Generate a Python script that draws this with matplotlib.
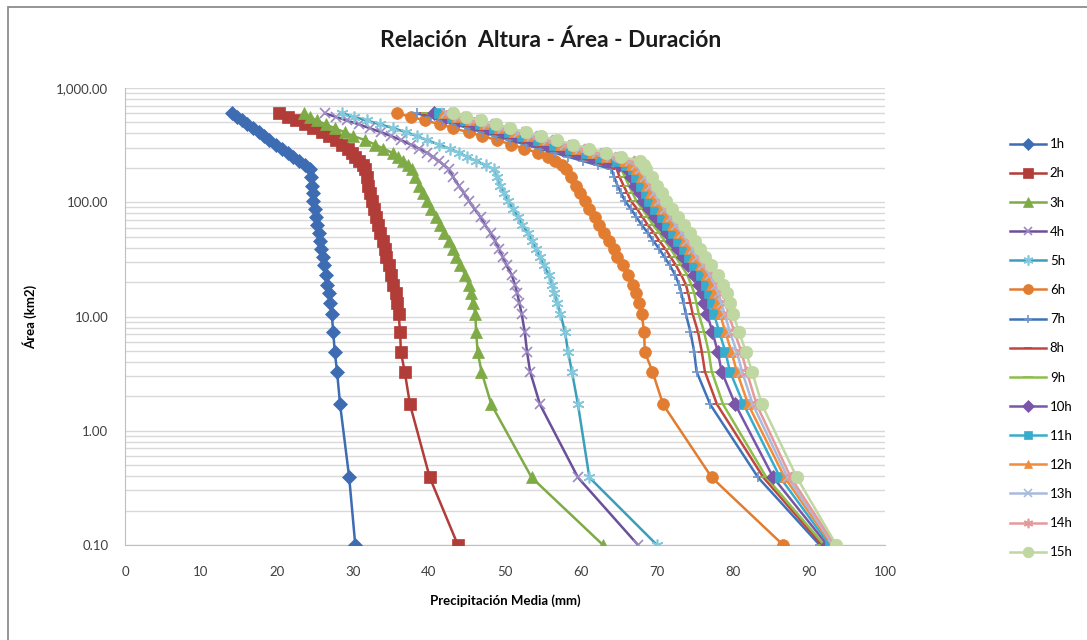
"""
Relacion Altura - Area - Duracion (curvas P-A-D)
"""
import matplotlib
matplotlib.use('Agg')
import matplotlib.pyplot as plt
from matplotlib.ticker import FuncFormatter, LogLocator, NullFormatter
from matplotlib.lines import Line2D
from matplotlib.patches import Rectangle

plt.rcParams['font.family'] = ['Lato', 'DejaVu Sans']

# ── datos: area (km2) comun a todas las duraciones ──────────────────────────
area = [0.1, 0.39, 1.7, 3.3, 4.9, 7.3, 10.5, 13, 16, 19, 23, 28, 33, 39, 46, 54,
        63, 74, 87, 102, 120, 140, 165, 195, 210, 230, 250, 270, 295, 320, 350,
        380, 410, 445, 480, 520, 560, 600]

# precipitacion media (mm) por duracion
p_1h = [30.3, 29.5, 28.3, 27.9, 27.6, 27.4, 27.2, 27.0, 26.8, 26.6, 26.4, 26.2, 26.0, 25.8, 25.6, 25.5,
        25.3, 25.1, 25.0, 24.8, 24.7, 24.6, 24.5, 24.4, 23.7, 22.9, 22.1, 21.4, 20.6, 19.9, 19.0,
        18.3, 17.6, 16.8, 16.1, 15.4, 14.8, 14.1]
p_2h = [43.8, 40.1, 37.5, 36.8, 36.3, 36.2, 36.0, 35.8, 35.6, 35.3, 35.0, 34.7, 34.4, 34.2, 33.9, 33.6,
        33.3, 33.0, 32.8, 32.5, 32.3, 32.0, 31.8, 31.6, 31.3, 30.8, 30.3, 29.9, 29.3, 28.6, 27.8,
        26.9, 25.9, 24.8, 23.7, 22.5, 21.4, 20.3]
p_3h = [62.9, 53.5, 48.2, 46.9, 46.4, 46.2, 46.1, 45.8, 45.5, 45.2, 44.8, 44.1, 43.6, 43.1, 42.6, 42.0,
        41.5, 40.9, 40.3, 39.7, 39.2, 38.7, 38.2, 37.8, 37.3, 36.6, 35.9, 35.2, 34.0, 32.9, 31.6,
        30.0, 28.9, 27.6, 26.4, 25.2, 24.3, 23.5]
p_4h = [67.5, 59.6, 54.6, 53.3, 52.9, 52.6, 52.2, 51.9, 51.6, 51.3, 50.9, 50.2, 49.7, 49.2, 48.7, 48.1,
        47.4, 46.8, 46.0, 45.3, 44.6, 43.9, 43.2, 42.6, 42.0, 41.3, 40.5, 39.8, 38.7, 37.6, 36.3,
        35.0, 33.7, 32.2, 30.8, 29.2, 27.7, 26.3]
p_5h = [70.0, 61.1, 59.6, 58.8, 58.3, 57.9, 57.3, 56.9, 56.5, 56.2, 55.8, 55.1, 54.6, 54.1, 53.6, 53.0,
        52.3, 51.7, 51.1, 50.4, 49.9, 49.4, 48.9, 48.5, 47.5, 46.2, 45.0, 44.0, 42.7, 41.3, 39.7,
        38.4, 37.0, 35.3, 33.6, 31.8, 30.1, 28.6]
p_6h = [86.6, 77.2, 70.8, 69.4, 68.4, 68.3, 68.0, 67.6, 67.2, 66.8, 66.2, 65.5, 64.8, 64.3, 63.7, 63.0,
        62.4, 61.8, 61.1, 60.5, 59.9, 59.4, 58.7, 58.0, 57.5, 56.6, 55.6, 54.4, 52.5, 50.8, 49.0,
        47.0, 45.2, 43.2, 41.5, 39.5, 37.6, 35.8]
p_7h = [91.4, 83.3, 77.0, 75.2, 74.9, 74.4, 73.8, 73.5, 73.2, 72.9, 72.4, 71.7, 71.0, 70.3, 69.5, 68.8,
        68.0, 67.3, 66.6, 65.8, 65.3, 64.8, 64.4, 64.0, 62.3, 60.2, 58.3, 56.6, 54.6, 52.7, 50.7,
        48.8, 47.1, 45.2, 43.5, 41.7, 40.1, 38.4]
p_8h = [91.7, 84.0, 77.9, 76.3, 75.9, 75.4, 74.7, 74.4, 74.1, 73.8, 73.2, 72.5, 71.8, 71.1, 70.3, 69.6,
        68.8, 68.1, 67.4, 66.6, 66.1, 65.6, 65.1, 64.7, 63.3, 61.4, 59.4, 57.7, 55.6, 53.7, 51.7,
        49.7, 48.0, 46.1, 44.3, 42.5, 40.9, 39.2]
p_9h = [92.0, 84.4, 78.7, 77.2, 76.8, 76.2, 75.5, 75.2, 74.9, 74.5, 74.0, 73.2, 72.5, 71.8, 71.0, 70.3,
        69.5, 68.8, 68.1, 67.3, 66.8, 66.3, 65.8, 65.3, 64.0, 62.4, 60.3, 58.5, 56.5, 54.5, 52.5,
        50.5, 48.8, 46.8, 45.0, 43.2, 41.5, 39.8]
p_10h = [92.4, 85.3, 80.3, 78.5, 78.0, 77.3, 76.6, 76.2, 75.9, 75.5, 74.9, 74.1, 73.4, 72.7, 72.0, 71.3,
         70.5, 69.8, 69.0, 68.2, 67.7, 67.1, 66.6, 66.1, 65.0, 63.6, 61.5, 59.6, 57.5, 55.5, 53.4,
         51.5, 49.7, 47.7, 45.9, 44.0, 42.3, 40.6]
p_11h = [92.7, 86.2, 81.4, 79.6, 79.0, 78.2, 77.5, 77.2, 76.8, 76.4, 75.8, 74.9, 74.2, 73.5, 72.8, 72.1,
         71.3, 70.6, 69.8, 69.0, 68.5, 67.9, 67.3, 66.8, 65.9, 64.7, 62.5, 60.6, 58.5, 56.5, 54.4,
         52.3, 50.5, 48.5, 46.7, 44.8, 43.0, 41.3]
p_12h = [93.0, 86.8, 82.0, 80.5, 79.8, 79.0, 78.3, 77.9, 77.5, 77.1, 76.4, 75.6, 74.8, 74.2, 73.5, 72.8,
         72.0, 71.3, 70.5, 69.7, 69.1, 68.5, 67.9, 67.3, 66.6, 65.6, 63.3, 61.4, 59.3, 57.2, 55.1,
         53.0, 51.2, 49.2, 47.3, 45.4, 43.6, 41.9]
p_13h = [93.2, 87.2, 82.6, 81.2, 80.5, 79.6, 78.9, 78.5, 78.1, 77.7, 77.0, 76.1, 75.3, 74.7, 74.0, 73.3,
         72.5, 71.8, 71.0, 70.2, 69.6, 69.1, 68.4, 67.8, 67.2, 66.4, 64.0, 62.1, 59.9, 57.9, 55.7,
         53.6, 51.8, 49.7, 47.8, 45.9, 44.0, 42.3]
p_14h = [93.4, 87.6, 83.1, 81.8, 81.1, 80.2, 79.4, 79.1, 78.7, 78.2, 77.5, 76.6, 75.8, 75.2, 74.5, 73.8,
         73.0, 72.3, 71.5, 70.7, 70.1, 69.5, 68.9, 68.2, 67.8, 67.0, 64.7, 62.7, 60.5, 58.4, 56.3,
         54.2, 52.3, 50.2, 48.3, 46.3, 44.5, 42.8]
p_15h = [93.6, 88.4, 83.8, 82.5, 81.7, 80.8, 80.0, 79.6, 79.2, 78.7, 78.0, 77.1, 76.3, 75.7, 75.0, 74.3,
         73.5, 72.8, 72.0, 71.2, 70.6, 70.0, 69.3, 68.6, 68.3, 67.7, 65.3, 63.3, 61.1, 59.0, 56.8,
         54.7, 52.8, 50.7, 48.8, 46.8, 44.9, 43.2]

etiquetas = ['1h', '2h', '3h', '4h', '5h', '6h', '7h', '8h', '9h', '10h', '11h', '12h', '13h', '14h', '15h']
valores = [p_1h, p_2h, p_3h, p_4h, p_5h, p_6h, p_7h, p_8h, p_9h, p_10h, p_11h, p_12h, p_13h, p_14h, p_15h]

# estilo tipo Excel 2007 (color, marcador, tamano, color borde marcador)
STAR = (6, 2, 0)
estilos = [
    ('#3D6CB3', 'D', 7.5, None),
    ('#B23C38', 's', 8.0, None),
    ('#7FAB46', '^', 8.0, None),
    ('#6B4F98', 'x', 7.5, '#9C89C2'),
    ('#3A9FBA', STAR, 8.5, '#84C8DC'),
    ('#E27C31', 'o', 8.5, None),
    ('#3F72B8', '+', 7.0, '#6F95CC'),
    ('#C2463F', '_', 6.0, None),
    ('#8CBE4C', '_', 8.0, None),
    ('#7A56A8', 'D', 7.0, None),
    ('#37ACCD', 's', 7.5, None),
    ('#F08C3A', '^', 7.5, None),
    ('#A9BADF', 'x', 7.0, None),
    ('#E59A9A', STAR, 8.0, None),
    ('#BFD7A0', 'o', 9.0, None),
]

W, H = 1087, 640
fig = plt.figure(figsize=(W / 100, H / 100), dpi=100)
ax = fig.add_axes([125 / W, (H - 545) / H, 760 / W, 457 / H])

handles = []
for lab, vals, (col, mk, ms, mec) in zip(etiquetas, valores, estilos):
    mew = 1.2 if mk in ('x', '+', '_', STAR) else 0.5
    ax.plot(vals, area, color=col, lw=1.8, marker=mk, ms=ms,
            mfc=col, mec=mec or col, mew=mew, zorder=3)
    handles.append(Line2D([], [], color=col, lw=1.8, marker=mk, ms=ms * 0.85,
                          mfc=col, mec=mec or col, mew=mew))

ax.set_yscale('log')
ax.set_ylim(0.1, 1000)
ax.set_xlim(0, 100)
ax.set_xticks(range(0, 101, 10))
ax.yaxis.set_major_locator(LogLocator(base=10, numticks=10))
ax.yaxis.set_minor_locator(LogLocator(base=10, subs=range(2, 10), numticks=50))
ax.yaxis.set_major_formatter(FuncFormatter(lambda v, p: f'{v:,.2f}'))
ax.yaxis.set_minor_formatter(NullFormatter())
ax.grid(True, which='both', axis='y', color='#D9D9D9', lw=1.0)
ax.set_axisbelow(True)

for s in ('top', 'right'):
    ax.spines[s].set_visible(False)
for s in ('left', 'bottom'):
    ax.spines[s].set_color('#BFBFBF')
ax.tick_params(axis='both', which='both', length=0, labelsize=9.5, colors='#404040')
ax.tick_params(axis='x', pad=15)
ax.tick_params(axis='y', pad=12)

ax.set_xlabel('Precipitación Media (mm)', fontsize=9.5, fontweight='bold', labelpad=12)
ax.set_ylabel('Área (km2)', fontsize=9.5, fontweight='bold', labelpad=14)

fig.text(0.507, 1 - 40 / H, 'Relación  Altura - Área - Duración', ha='center', va='center',
         fontsize=16.5, fontweight='bold', color='#1A1A1A')

fig.legend(handles, etiquetas, loc='upper left', bbox_to_anchor=(1005 / W, 1 - 133 / H),
           frameon=False, fontsize=9.5, labelspacing=1.3, handlelength=2.7,
           handletextpad=0.3, borderaxespad=0)

# marco del grafico
fig.patches.append(Rectangle((8 / W, -0.05), 1.2, 1 - 7 / H + 0.05, transform=fig.transFigure,
                             fill=False, ec='#8C8C8C', lw=1.3))

fig.savefig('out.png', dpi=100)
print('out.png creada')
